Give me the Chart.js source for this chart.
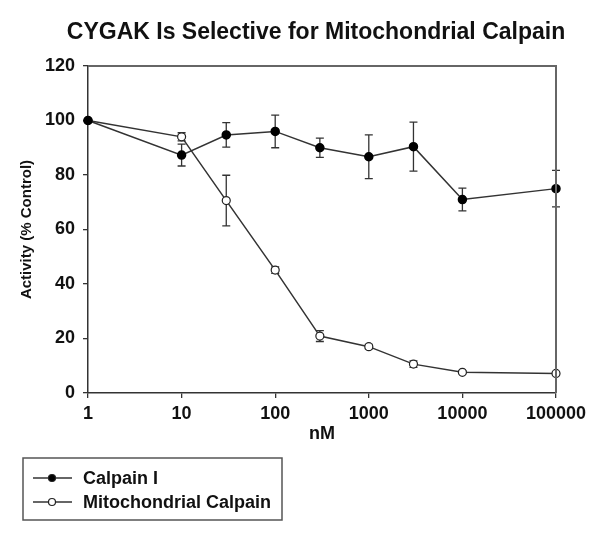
<!DOCTYPE html>
<html>
<head>
<meta charset="utf-8">
<script src="https://cdn.jsdelivr.net/npm/chart.js@4/dist/chart.umd.min.js"></script>
<style>
  html, body { margin: 0; padding: 0; background: #fff; }
  #wrap { width: 600px; height: 535px; position: relative; }
</style>
</head>
<body>
<div id="wrap"><canvas id="chart"></canvas></div>
<script>
// data
const doses = [1, 10, 30, 100, 300, 1000, 3000, 10000, 100000];
const calpainI = [100, 87.3, 94.7, 96, 90, 86.7, 90.4, 71, 75];
const calpainIErr = [0, 4, 4.5, 6, 3.5, 8, 9, 4.2, 6.7];
const mitoCalpain = [100, 94, 70.6, 45.1, 20.9, 17, 10.6, 7.6, 7.2];
const mitoErr = [0, 1.5, 9.3, 1.2, 2, 0.8, 1.2, 0.5, 0.5];
const xTicks = [1, 10, 100, 1000, 10000, 100000];
const yTicks = [0, 20, 40, 60, 80, 100, 120];
const chartTitle = 'CYGAK Is Selective for Mitochondrial Calpain';

const FONT = 'Liberation Sans, Arial, sans-serif';
const INK = '#111';
const LINE = '#333';

// error bars, drawn under the markers
const errorBars = {
    id: 'errorBars',
    beforeDatasetsDraw(chart) {
        const { ctx, scales: { x, y } } = chart;
        ctx.save();
        ctx.strokeStyle = LINE;
        ctx.lineWidth = 1.3;
        chart.data.datasets.forEach(ds => {
            ds.data.forEach((p, i) => {
                const e = ds.errors[i];
                if (!e) return;
                const px = x.getPixelForValue(p.x);
                const top = y.getPixelForValue(p.y + e);
                const bot = y.getPixelForValue(p.y - e);
                ctx.beginPath();
                ctx.moveTo(px, top); ctx.lineTo(px, bot);
                ctx.moveTo(px - 4, top); ctx.lineTo(px + 4, top);
                ctx.moveTo(px - 4, bot); ctx.lineTo(px + 4, bot);
                ctx.stroke();
            });
        });
        ctx.restore();
    }
};

// title (wider than the plot, so not the built-in one), top/right frame, boxed legend
const frameAndLegend = {
    id: 'frameAndLegend',
    afterDraw(chart) {
        const { ctx, chartArea: a } = chart;
        ctx.save();
        ctx.fillStyle = INK;
        ctx.font = 'bold 23px ' + FONT;
        ctx.textAlign = 'center';
        ctx.textBaseline = 'middle';
        ctx.fillText(chartTitle, (a.left + a.right) / 2 - 6, 33);

        ctx.strokeStyle = '#666';
        ctx.lineWidth = 2;
        ctx.beginPath();
        ctx.moveTo(a.left, a.top); ctx.lineTo(a.right, a.top); ctx.lineTo(a.right, a.bottom);
        ctx.stroke();

        // legend box
        ctx.strokeStyle = '#555';
        ctx.lineWidth = 1.5;
        ctx.strokeRect(23, 458, 259, 62);
        ctx.font = 'bold 18px ' + FONT;
        ctx.textAlign = 'left';
        chart.data.datasets.forEach((ds, i) => {
            const yy = 478 + i * 24;
            ctx.strokeStyle = LINE;
            ctx.lineWidth = 1.3;
            ctx.beginPath();
            ctx.moveTo(33, yy); ctx.lineTo(72, yy);
            ctx.stroke();
            ctx.beginPath();
            ctx.arc(52, yy, 3.5, 0, Math.PI * 2);
            ctx.fillStyle = ds.pointBackgroundColor;
            ctx.fill();
            ctx.lineWidth = 1.2;
            ctx.strokeStyle = '#222';
            ctx.stroke();
            ctx.fillStyle = INK;
            ctx.fillText(ds.label, 83, yy + 1);
        });
        ctx.restore();
    }
};

new Chart(document.getElementById('chart'), {
    type: 'line',
    data: {
        datasets: [
            {
                label: 'Calpain I',
                data: doses.map((d, i) => ({ x: d, y: calpainI[i] })),
                errors: calpainIErr,
                borderColor: LINE,
                borderWidth: 1.5,
                pointRadius: 4,
                pointBackgroundColor: '#000',
                pointBorderColor: '#000',
                tension: 0,
                clip: false
            },
            {
                label: 'Mitochondrial Calpain',
                data: doses.map((d, i) => ({ x: d, y: mitoCalpain[i] })),
                errors: mitoErr,
                borderColor: LINE,
                borderWidth: 1.5,
                pointRadius: 4,
                pointBackgroundColor: '#fff',
                pointBorderColor: '#222',
                pointBorderWidth: 1.2,
                tension: 0,
                clip: false
            }
        ]
    },
    options: {
        responsive: true,
        maintainAspectRatio: false,
        animation: false,
        layout: { padding: { left: 0, right: 44, top: 66, bottom: 90 } },
        plugins: {
            legend: { display: false },
            tooltip: { enabled: false },
            title: { display: false }
        },
        scales: {
            x: {
                type: 'logarithmic',
                min: 1,
                max: 100000,
                afterBuildTicks: s => { s.ticks = xTicks.map(v => ({ value: v })); },
                afterFit: s => { s.height = 52; },
                grid: { drawOnChartArea: false, drawTicks: true, tickLength: 5, color: LINE, lineWidth: 1.3 },
                border: { color: LINE, width: 1.5 },
                ticks: {
                    color: INK,
                    font: { family: FONT, size: 18, weight: 'bold' },
                    padding: 5,
                    maxRotation: 0,
                    autoSkip: false,
                    callback: v => String(v)
                },
                title: {
                    display: true,
                    text: 'nM',
                    color: INK,
                    font: { family: FONT, size: 18, weight: 'bold' },
                    padding: 0
                }
            },
            y: {
                min: 0,
                max: 120,
                afterBuildTicks: s => { s.ticks = yTicks.map(v => ({ value: v })); },
                afterFit: s => { s.width = 88; },
                grid: { drawOnChartArea: false, drawTicks: true, tickLength: 5, color: LINE, lineWidth: 1.3 },
                border: { color: LINE, width: 1.5 },
                ticks: {
                    color: INK,
                    font: { family: FONT, size: 18, weight: 'bold' },
                    padding: 8
                },
                title: {
                    display: true,
                    text: 'Activity (% Control)',
                    color: INK,
                    font: { family: FONT, size: 15, weight: 'bold' },
                    padding: { top: 18, bottom: 0 }
                }
            }
        }
    },
    plugins: [errorBars, frameAndLegend]
});
</script>
</body>
</html>
